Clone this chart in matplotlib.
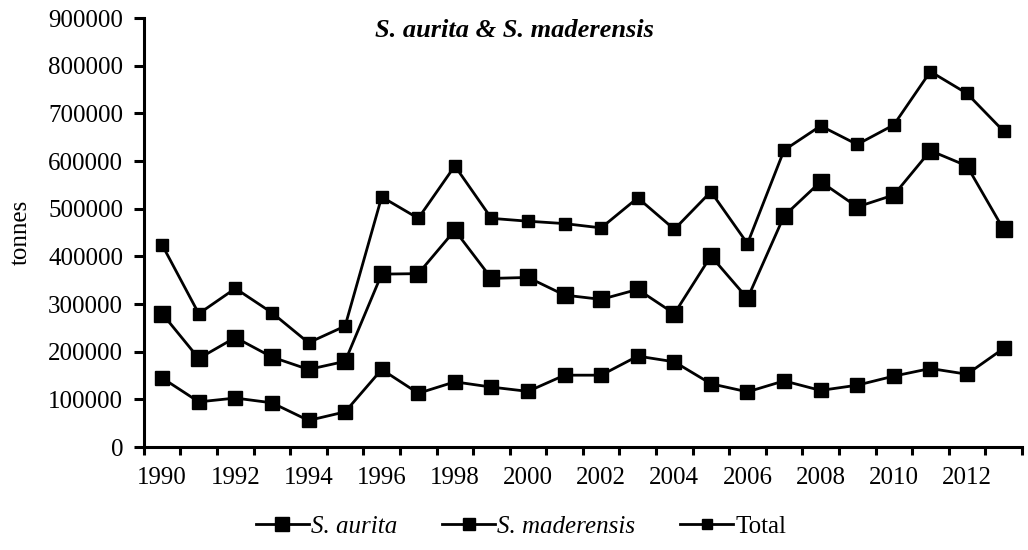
import numpy as np
import matplotlib.pyplot as plt

plt.rcParams['font.family'] = ['Liberation Serif', 'DejaVu Serif']

years = list(range(1990, 2014))
aurita = [280000, 186000, 230000, 189000, 163000, 180000, 363000, 364000, 455000, 354000,
          356000, 319000, 310000, 331000, 280000, 401000, 312000, 485000, 557000, 504000,
          529000, 622000, 590000, 457000]
maderensis = [145000, 95000, 103000, 93000, 56000, 74000, 163000, 113000, 137000, 126000,
              117000, 151000, 151000, 191000, 179000, 133000, 116000, 139000, 119000, 130000,
              149000, 165000, 153000, 207000]
total = [424000, 280000, 333000, 282000, 219000, 254000, 525000, 480000, 590000, 480000,
         474000, 469000, 460000, 523000, 457000, 536000, 427000, 623000, 674000, 635000,
         676000, 788000, 742000, 663000]

fig = plt.figure(figsize=(10.28, 5.5), dpi=100)
ax = fig.add_axes([0.140, 0.187, 0.854, 0.780])

x = np.arange(len(years))
ax.plot(x, aurita, color='black', lw=2, marker='s', ms=11, label='S. aurita')
ax.plot(x, maderensis, color='black', lw=2, marker='s', ms=10, label='S. maderensis')
ax.plot(x, total, color='black', lw=2, marker='s', ms=8.5, label='Total')

ax.set_xlim(-0.5, len(years) - 0.5)
ax.set_ylim(0, 900000)
ax.set_yticks(np.arange(0, 900001, 100000))
ax.tick_params(axis='y', labelsize=18, length=7, width=2.2, direction='out', pad=8)
ax.set_xticks(x[::2])
ax.set_xticklabels([str(y) for y in years[::2]])
ax.set_xticks(np.arange(-0.5, len(years)), minor=True)
ax.tick_params(axis='x', which='major', length=0, labelsize=18, pad=14)
ax.tick_params(axis='x', which='minor', length=6, width=2.2, direction='out')

for s in ['top', 'right']:
    ax.spines[s].set_visible(False)
for s in ['left', 'bottom']:
    ax.spines[s].set_linewidth(2.2)

ax.set_ylabel('tonnes', fontsize=18, labelpad=12)
fig.text(0.5, 0.945, 'S. aurita & S. maderensis', ha='center', va='center',
         fontsize=19, fontweight='bold', fontstyle='italic')

leg = fig.legend(loc='center', bbox_to_anchor=(0.507, 0.042), ncol=3, frameon=False,
                 fontsize=18, handlelength=2.1, columnspacing=1.8, handletextpad=0.1,
                 markerscale=0.9)
for t in leg.get_texts()[:2]:
    t.set_fontstyle('italic')

fig.savefig('out.png', dpi=100)
